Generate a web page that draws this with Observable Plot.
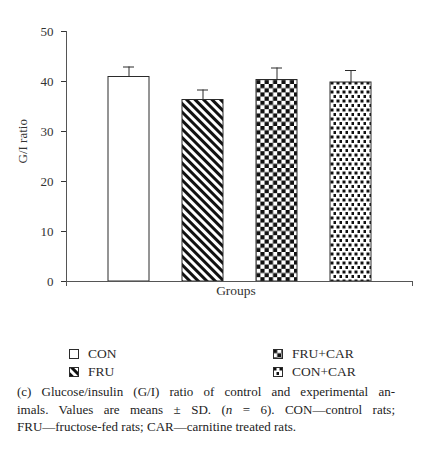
<!DOCTYPE html>
<html>
<head>
<meta charset="utf-8">
<script src="https://cdn.jsdelivr.net/npm/d3@7"></script>
<script src="https://cdn.jsdelivr.net/npm/@observablehq/plot@0.6"></script>
<style>
  html, body { margin: 0; padding: 0; background: #fff; }
  body { width: 431px; height: 461px; font-family: "Liberation Serif", "DejaVu Serif", serif; color: #2a2a2a; }
  #chart svg { display: block; }
  #legend { position: relative; height: 75px; font-size: 13.5px; }
  .item { position: absolute; height: 18px; line-height: 18px; display: flex; align-items: center; }
  .item svg { display: block; margin-right: 9px; }
  #caption { margin: 3px 0 0 17px; width: 378px; font-size: 13px; line-height: 17.5px; color: #222; }
  #caption div { text-align: justify; text-align-last: justify; white-space: nowrap; }
  #caption div.last { text-align-last: left; }
</style>
</head>
<body>
<div id="chart"></div>
<div id="legend"></div>
<div id="caption"></div>
<script>
// ---- data ----
const groups = ["CON", "FRU", "FRU+CAR", "CON+CAR"];
const means  = [40.9, 36.3, 40.3, 39.8];
const sds    = [2.0, 2.0, 2.4, 2.4];
const yTicks = [0, 10, 20, 30, 40, 50];
const yLabel = "G/I ratio";
const xLabel = "Groups";
const captionLines = [
  "(c) Glucose/insulin (G/I) ratio of control and experimental an-",
  "imals. Values are means \u00b1 SD. (<i>n</i> = 6). CON\u2014control rats;",
  "FRU\u2014fructose-fed rats; CAR\u2014carnitine treated rats."
];

// fills (styles) for each group
const fills = ["#ffffff", "url(#p-stripes)", "url(#p-checker)", "url(#p-dots)"];

const data = groups.map((g, i) => ({group: g, mean: means[i], sd: sds[i]}));

const ink = "#2b2b2b";
const axisInk = "#555";

const plot = Plot.plot({
  width: 431,
  height: 305,
  marginLeft: 66,
  marginRight: 18,
  marginTop: 31,
  marginBottom: 24,
  style: {fontFamily: "'Liberation Serif', serif", fontSize: "13px", color: "#333", background: "#fff"},
  x: {domain: groups, paddingInner: 0.444, paddingOuter: 0.545, axis: null},
  y: {domain: [0, 50], ticks: yTicks, tickSize: 5, tickPadding: 8, label: null, tickFormat: d => d},
  color: {domain: groups, range: fills},
  marks: [
    Plot.barY(data, {x: "group", y: "mean", fill: "group", stroke: ink, strokeWidth: 1}),
    Plot.ruleX(data, {x: "group", y1: "mean", y2: d => d.mean + d.sd, stroke: ink, strokeWidth: 1}),
    Plot.tickY(data, {x: "group", y: d => d.mean + d.sd, insetLeft: 15, insetRight: 15, stroke: ink, strokeWidth: 1}),
    Plot.ruleY([0], {stroke: axisInk, strokeWidth: 1}),
    Plot.text([yLabel], {frameAnchor: "left", rotate: -90, dx: -44, dy: 7, text: d => d, fontSize: 13, fill: "#333"}),
    Plot.text([xLabel], {frameAnchor: "bottom", dy: 13, dx: -4, text: d => d, fontSize: 13.5, fill: "#333"})
  ]
});

// patterns
const svg = d3.select(plot);
const defs = svg.insert("defs", ":first-child");
const ps = defs.append("pattern").attr("id", "p-stripes").attr("patternUnits", "userSpaceOnUse")
  .attr("width", 6).attr("height", 6).attr("patternTransform", "rotate(-45)");
ps.append("rect").attr("width", 6).attr("height", 6).attr("fill", "#fff");
ps.append("rect").attr("width", 3).attr("height", 6).attr("fill", "#111");

const pc = defs.append("pattern").attr("id", "p-checker").attr("patternUnits", "userSpaceOnUse")
  .attr("width", 8.4).attr("height", 8.4);
pc.append("rect").attr("width", 8.4).attr("height", 8.4).attr("fill", "#fff");
pc.append("rect").attr("width", 4.2).attr("height", 4.2).attr("fill", "#111");
pc.append("rect").attr("x", 4.2).attr("y", 4.2).attr("width", 4.2).attr("height", 4.2).attr("fill", "#111");

const pd = defs.append("pattern").attr("id", "p-dots").attr("patternUnits", "userSpaceOnUse")
  .attr("width", 6).attr("height", 9);
pd.append("rect").attr("width", 6).attr("height", 9).attr("fill", "#fff");
pd.append("rect").attr("x", 0.5).attr("y", 0.5).attr("width", 3).attr("height", 3).attr("fill", "#111");
pd.append("rect").attr("x", 3.5).attr("y", 5).attr("width", 3).attr("height", 3).attr("fill", "#111");

// y axis line and end ticks using the plot's scales
const ys = plot.scale("y");
const y0 = ys.apply(0), yTop = ys.apply(50);
const xl = 66, xrgt = 431 - 18;
const g = svg.append("g").attr("stroke", axisInk).attr("stroke-width", 1);
g.append("line").attr("x1", xl + 0.5).attr("x2", xl + 0.5).attr("y1", yTop).attr("y2", y0 + 5);
g.append("line").attr("x1", xrgt - 0.5).attr("x2", xrgt - 0.5).attr("y1", y0).attr("y2", y0 + 5);

document.getElementById("chart").appendChild(plot);

// legend
const legend = document.getElementById("legend");
const pos = [[69, 40], [69, 58], [273, 40], [273, 58]];
groups.forEach((gname, i) => {
  const div = document.createElement("div");
  div.className = "item";
  div.style.left = pos[i][0] + "px";
  div.style.top = pos[i][1] + "px";
  div.innerHTML = `<svg width="10" height="10"><rect x="0.5" y="0.5" width="9" height="9" fill="${fills[i]}" stroke="${ink}" stroke-width="1"/></svg><span>${gname}</span>`;
  legend.appendChild(div);
});

// caption
const cap = document.getElementById("caption");
captionLines.forEach((line, i) => {
  const d = document.createElement("div");
  if (i === captionLines.length - 1) d.className = "last";
  d.innerHTML = line;
  cap.appendChild(d);
});
</script>
</body>
</html>
